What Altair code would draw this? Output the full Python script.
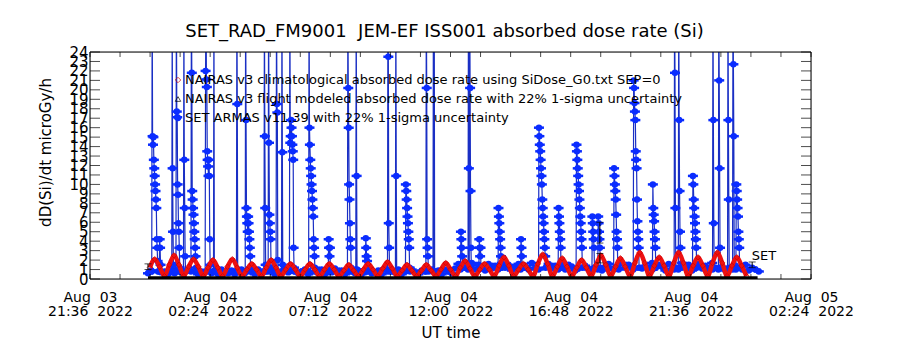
import json
import altair as alt
import pandas as pd

# ---------------- data (time = minutes after 2022-08-03 21:36 UT) ----------------
X_MAJOR = [0, 288, 576, 864, 1152, 1440, 1728]
X_DATES = ["Aug  03", "Aug  04", "Aug  04", "Aug  04", "Aug  04", "Aug  04", "Aug  05"]
X_TIMES = ["21:36  2022", "02:24  2022", "07:12  2022", "12:00  2022",
           "16:48  2022", "21:36  2022", "02:24  2022"]
X_MINOR = [0, 72, 144, 216, 288, 360, 432, 504, 576, 648, 720, 792, 864, 936,
           1008, 1080, 1152, 1224, 1296, 1368, 1440, 1512, 1584, 1656, 1728]
Y_TICKS = [0, 1, 2, 3, 4, 5, 6, 7, 8, 9, 10, 11, 12, 13, 14, 15, 16, 17, 18,
           19, 20, 21, 22, 23, 24]

# NAIRAS v3 climatological dose rate (red), sampled every 11.625 min
RED_START = 143.5
RED_STEP = 11.625
RED_VALUES = [
    1.2, 2.1, 1.3, 0.3, 1.5, 2.5, 1.5, 0.3, 1.3, 2.1, 1.3, 0.3,
    1.2, 2.0, 1.2, 0.3, 1.3, 2.1, 1.2, 0.3, 1.0, 1.6, 1.0, 0.3,
    1.2, 2.0, 1.2, 0.3, 1.0, 1.6, 1.0, 0.3, 1.0, 1.6, 1.0, 0.3,
    1.0, 1.6, 1.0, 0.3, 0.9, 1.5, 0.9, 0.3, 1.0, 1.6, 1.0, 0.3,
    1.1, 1.8, 1.1, 0.3, 0.9, 1.5, 0.9, 0.3, 0.9, 1.5, 0.9, 0.3,
    1.0, 1.7, 1.0, 0.3, 1.2, 1.9, 1.1, 0.3, 1.0, 1.6, 1.0, 0.3,
    1.4, 2.3, 1.4, 0.3, 1.0, 1.6, 1.0, 0.3, 1.6, 2.6, 1.6, 0.3,
    1.3, 2.2, 1.3, 0.3, 1.2, 2.0, 1.2, 0.3, 1.5, 2.5, 1.5, 0.3,
    1.3, 2.2, 1.3, 0.3, 1.7, 2.8, 1.7, 0.3, 1.4, 2.3, 1.4, 0.3,
    1.7, 2.8, 1.7, 0.3, 1.4, 2.3, 1.4, 0.3, 1.7, 2.8, 1.7, 0.3,
    1.4, 2.3, 1.4, 0.3,
]

# SET ARMAS background level (blue), every 8 min
BASE_START = 139
BASE_STEP = 8
BASE_VALUES = [
    0.6, 0.9, 0.5, 1.0, 0.7, 0.8, 0.5, 1.1, 0.6, 0.9, 0.7, 0.5,
    0.9, 0.6, 1.0, 0.5, 0.8, 0.7, 1.1, 0.6, 0.9, 0.5, 1.0, 0.7,
    0.6, 0.9, 0.5, 0.8, 1.0, 0.6, 0.7, 0.9, 0.5, 1.0, 0.6, 0.8,
    0.7, 1.1, 0.5, 0.9, 0.6, 1.0, 0.7, 0.5, 0.9, 0.6, 0.8, 1.0,
    0.5, 0.7, 0.9, 0.6, 1.0, 0.5, 0.8, 0.7, 1.1, 0.6, 0.9, 0.5,
    1.0, 0.7, 0.6, 0.9, 0.5, 0.8, 1.0, 0.6, 0.7, 0.9, 0.5, 1.1,
    0.6, 0.8, 0.7, 1.0, 0.5, 0.9, 0.6, 1.0, 0.7, 0.5, 0.9, 0.8,
    0.6, 1.0, 0.7, 0.9, 0.5, 1.0, 0.8, 0.6,
    1.1, 1.6, 0.9, 1.4, 1.2, 1.7, 1.0, 1.5, 1.3, 0.9, 1.6, 1.1,
    1.4, 1.0, 1.7, 1.2, 1.5, 0.9, 1.3, 1.6, 1.1, 1.4, 1.0, 1.7,
    1.2, 1.5, 1.3, 0.9, 1.6, 1.1, 1.4, 1.2, 1.7, 1.0, 1.5, 1.3,
    0.9, 1.6, 1.1, 1.4, 1.0, 1.7, 1.2, 1.5, 0.9, 1.3, 1.6, 1.1,
    1.4, 1.0, 1.7, 1.2, 1.5, 1.3, 0.9, 1.6, 1.1, 1.4, 1.2, 1.7,
    1.0, 1.5, 1.3, 0.9, 1.6, 1.1, 1.4, 1.0, 1.7, 1.2, 1.5, 0.9,
    1.3, 1.6, 1.1, 1.4, 1.0, 1.7, 1.2, 1.5, 1.3, 0.9, 1.6, 1.1,
    1.4, 1.2, 1.0, 1.5, 0.9, 1.2, 1.0, 0.8,
]

# SET ARMAS bursts (blue), 1-min samples starting at given minute; 30 = off scale
BURST_START = [148, 166, 196, 206, 224, 242, 276, 296, 351, 372, 417, 427, 446,
               459, 478, 524, 571, 617, 637, 660, 713, 732, 756, 805, 822, 888,
               906, 932, 978, 1032, 1075, 1122, 1165, 1203, 1217, 1255, 1302,
               1348, 1400, 1410, 1444, 1492, 1506, 1528, 1540, 1548]
BURST_VALUES = [
    [0.8, 30, 15.1, 14.2, 15.0, 12.6, 11.7, 10.9, 10.0, 9.3, 8.4, 7.5, 4.2, 3.3, 1.9, 0.8],
    [0.8, 4.2, 3.3, 1.5, 0.8],
    [0.8, 28, 11.7, 5.0, 1.5, 0.8],
    [0.8, 30, 17.7, 17.1, 10.0, 8.9, 5.9, 5.0, 3.3, 1.2, 0.8],
    [0.8, 28, 12.6, 7.5, 2.4, 0.8],
    [0.8, 30, 21.8, 9.3, 8.4, 7.5, 6.8, 5.9, 5.0, 4.2, 3.3, 2.4, 1.2, 0.8],
    [0.8, 22.0, 30, 21.1, 20.3, 13.5, 12.6, 11.9, 10.9, 12.6, 10.9, 4.2, 1.5, 0.8],
    [0.8, 30, 0.8],
    [0.8, 30, 18.5, 1.0, 0.8],
    [0.8, 30, 16.8, 7.5, 6.6, 5.9, 5.0, 6.6, 5.9, 5.0, 4.2, 3.3, 2.4, 1.2, 0.8],
    [0.8, 30, 15.1, 7.5, 1.5, 0.8],
    [0.8, 30, 14.4, 6.8, 5.9, 5.0, 4.2, 1.2, 0.8],
    [0.8, 30, 18.5, 17.6, 2.0, 0.8],
    [0.8, 30, 13.4, 1.5, 0.8],
    [0.8, 30, 14.4, 15.1, 16.8, 16.0, 15.1, 14.2, 13.5, 12.6, 3.3, 1.2, 0.8],
    [0.8, 30, 16.0, 14.2, 12.6, 11.7, 10.9, 10.0, 9.3, 8.4, 7.5, 6.6, 4.2, 3.3, 2.4, 1.2, 0.8],
    [0.8, 4.2, 3.3, 2.4, 3.3, 1.2, 0.8],
    [0.8, 30, 20.2, 16.0, 10.0, 8.4, 5.9, 4.2, 3.3, 1.2, 0.8],
    [0.8, 30, 10.9, 1.0, 0.8],
    [0.8, 4.3, 3.3, 2.4, 1.9, 0.8],
    [0.8, 30, 23.5, 5.9, 3.3, 1.0, 0.8],
    [0.8, 30, 10.9, 0.8],
    [0.8, 10.0, 9.3, 8.4, 7.5, 6.6, 5.9, 5.0, 4.2, 3.3, 1.2, 0.8],
    [0.8, 30, 20.2, 4.2, 3.3, 2.4, 1.0, 0.8],
    [0.8, 30, 0.8, 30, 0.8],
    [1.0, 5.0, 4.2, 3.3, 2.4, 1.2],
    [1.0, 30, 11.7, 1.5, 30, 20.2, 9.3, 3.3, 1.2],
    [1.0, 4.2, 3.3, 2.4, 3.3, 1.2],
    [1.0, 7.5, 6.6, 5.9, 5.0, 4.2, 3.3, 2.4, 1.2],
    [1.0, 4.2, 3.3, 2.4, 1.2],
    [1.0, 16.0, 15.1, 14.2, 13.5, 12.6, 11.7, 10.9, 10.0, 8.4, 7.5, 6.6, 5.9, 5.0, 4.2, 3.3, 2.4, 1.2],
    [1.0, 7.5, 6.6, 5.9, 5.0, 4.2, 3.3, 1.2],
    [1.0, 14.2, 13.5, 12.6, 11.7, 10.9, 10.0, 9.3, 8.4, 7.5, 6.6, 5.9, 5.0, 4.2, 3.3, 1.2],
    [1.0, 6.6, 5.9, 5.0, 4.2, 3.3, 1.2],
    [1.0, 6.6, 5.9, 5.0, 4.2, 3.3, 1.2],
    [1.0, 11.7, 10.9, 10.0, 9.3, 8.4, 6.8, 5.0, 4.2, 3.3, 1.2],
    [1.0, 21.0, 20.2, 18.6, 17.7, 16.8, 13.5, 12.6, 11.7, 8.4, 6.1, 5.0, 4.2, 3.3, 1.2],
    [1.0, 10.0, 7.5, 6.8, 6.1, 5.0, 4.2, 3.3, 1.2],
    [1.0, 30, 21.8, 7.5, 1.2],
    [1.0, 30, 16.8, 9.3, 5.0, 3.3, 1.2],
    [1.0, 10.9, 10.0, 8.4, 7.5, 6.6, 5.9, 5.0, 4.2, 3.3, 1.2],
    [1.0, 30, 16.8, 5.9, 1.2],
    [1.0, 30, 21.0, 11.7, 3.3, 1.2],
    [1.0, 30, 16.8, 8.4, 1.2],
    [1.0, 30, 22.7, 15.1, 1.2],
    [1.0, 10.0, 9.3, 8.4, 7.5, 6.6, 5.0, 4.2, 3.3, 1.2],
]

# NAIRAS v3 flight modeled (black)
BLACK_T = [139, 400, 800, 1200, 1600]
BLACK_V = [0.1, 0.1, 0.1, 0.1, 0.1]

# black error bars
EB_T = [139, 1222, 1222, 1587]
EB_LO = [1.0, 3.8, 1.7, 1.2]
EB_HI = [1.6, 6.0, 2.7, 1.8]

LEGEND_LABELS = [
    "NAIRAS v3 climatological absorbed dose rate using SiDose_G0.txt SEP=0",
    "NAIRAS v3 flight modeled absorbed dose rate with 22% 1-sigma uncertainty",
    "SET ARMAS v11.39 with 22% 1-sigma uncertainty",
]

TITLE = "SET_RAD_FM9001  JEM-EF ISS001 absorbed dose rate (Si)"

# ---------------- build tables ----------------
W, H = 721, 227
FONT = "DejaVu Sans"
NB = lambda s: s.replace("  ", "\u00a0 ")

red_df = pd.DataFrame({"t": [RED_START + RED_STEP * i for i in range(len(RED_VALUES))],
                       "v": RED_VALUES})

pts = []
spans = []
for s, vals in zip(BURST_START, BURST_VALUES):
    spans.append((s, s + len(vals) - 1))
    for j, v in enumerate(vals):
        pts.append((s + j, v))
for i, v in enumerate(BASE_VALUES):
    t = BASE_START + BASE_STEP * i
    if not any(a <= t <= b for a, b in spans):
        pts.append((t, v))
pts.sort()
blue_df = pd.DataFrame(pts, columns=["t", "v"])
black_df = pd.DataFrame({"t": BLACK_T, "v": BLACK_V})
eb_df = pd.DataFrame({"t": EB_T, "lo": EB_LO, "hi": EB_HI})

xs = alt.Scale(domain=[0, 1728], nice=False, zero=False)
ys = alt.Scale(domain=[0, 24], nice=False, zero=False)

expr = ""
for v, d, tm in zip(X_MAJOR, X_DATES, X_TIMES):
    expr += f"datum.value == {v} ? [{json.dumps(NB(d))}, {json.dumps(NB(tm))}] : "
expr += "''"

x_axis = alt.Axis(values=X_MAJOR, labelExpr=expr, labelFlush=False, labelBound=False,
                  labelOverlap=False, ticks=False, domain=False, grid=False,
                  labelFontSize=14, labelFont=FONT, labelColor="black",
                  labelBaseline="top", labelPadding=11, labelLineHeight=14,
                  title="UT time", titleFontSize=15, titleFont=FONT,
                  titleFontWeight="normal", titleColor="black",
                  titleX=W / 2, titleY=53, titleBaseline="middle", titleAlign="center")
y_axis = alt.Axis(values=Y_TICKS, labelOverlap=False, ticks=False, domain=False, grid=False,
                  labelFontSize=15, labelFont=FONT, labelColor="black", labelPadding=2,
                  labelBaseline="middle",
                  title="dD(Si)/dt microGy/h", titleFontSize=15, titleFont=FONT,
                  titleFontWeight="normal", titleColor="black",
                  titleX=-45, titleY=100, titleAngle=270,
                  titleBaseline="middle", titleAlign="center")

X = lambda f="t:Q": alt.X(f, scale=xs, axis=x_axis)
Y = lambda f="v:Q": alt.Y(f, scale=ys, axis=y_axis)

blue_line = alt.Chart(blue_df).mark_line(color="#1a2fc4", strokeWidth=1.2, clip=True).encode(
    x=X(), y=Y())
blue_pts = alt.Chart(blue_df).mark_circle(color="#0a2cff", size=42, opacity=1, clip=True).encode(
    x=X(), y=Y())
blue_bar = alt.Chart(blue_df).mark_tick(orient="horizontal", color="#0a2cff", size=10,
                                        thickness=2.5, opacity=1, clip=True).encode(
    x=X(), y=Y())
red_line = alt.Chart(red_df).mark_line(color="#ee1111", strokeWidth=4.5, interpolate="monotone",
                                       clip=True).encode(x=X(), y=Y())
red_pts = alt.Chart(red_df).mark_point(shape="diamond", color="#cc0000", filled=False, size=30,
                                        strokeWidth=1, clip=True).encode(x=X(), y=Y())
black_line = alt.Chart(black_df).mark_line(color="black", strokeWidth=3.5, clip=True).encode(
    x=X(), y=Y())
eb_rule = alt.Chart(eb_df).mark_rule(color="black", strokeWidth=1).encode(
    x=X(), y=Y("lo:Q"), y2="hi:Q")
eb_lo = alt.Chart(eb_df).mark_tick(orient="horizontal", color="black", size=7, thickness=1).encode(
    x=X(), y=Y("lo:Q"))
eb_hi = alt.Chart(eb_df).mark_tick(orient="horizontal", color="black", size=7, thickness=1).encode(
    x=X(), y=Y("hi:Q"))
set_label = alt.Chart(pd.DataFrame({"t": [1586], "v": [2.4], "s": ["SET"]})).mark_text(
    align="left", baseline="middle", font=FONT, fontSize=13, color="black").encode(
    x=X(), y=Y(), text="s:N")

# axis ticks (inward) and frame
ytick_df = pd.DataFrame({"v": Y_TICKS})
xtick_df = pd.DataFrame({"t": X_MINOR})
ytick_l = alt.Chart(ytick_df).mark_tick(orient="horizontal", color="black", size=10, thickness=1).encode(
    y=Y(), x=alt.value(5))
ytick_r = alt.Chart(ytick_df).mark_tick(orient="horizontal", color="black", size=10, thickness=1).encode(
    y=Y(), x=alt.value(W - 5))
xtick_t = alt.Chart(xtick_df).mark_tick(orient="vertical", color="black", size=5, thickness=1).encode(
    x=X(), y=alt.value(2.5))
xtick_b = alt.Chart(xtick_df).mark_tick(orient="vertical", color="black", size=5, thickness=1).encode(
    x=X(), y=alt.value(H - 2.5))

one = pd.DataFrame({"a": [0]})
frame = alt.Chart(one).mark_rect(fill=None, stroke="black", strokeWidth=1).encode(
    x=alt.value(0), x2=alt.value(W), y=alt.value(0), y2=alt.value(H))

# legend (inside plot)
leg_y = [28, 47, 66]
legend_layers = []
legend_layers.append(alt.Chart(one).mark_point(shape="diamond", filled=False, color="#cc0000",
                                               size=30, strokeWidth=1).encode(
    x=alt.value(88), y=alt.value(leg_y[0])))
legend_layers.append(alt.Chart(one).mark_point(shape="triangle-up", filled=False, color="black",
                                               size=30, strokeWidth=1).encode(
    x=alt.value(88), y=alt.value(leg_y[1])))
legend_layers.append(alt.Chart(one).mark_circle(color="#0a2cff", size=40, opacity=1).encode(
    x=alt.value(88), y=alt.value(leg_y[2])))
for lab, yy in zip(LEGEND_LABELS, leg_y):
    legend_layers.append(alt.Chart(pd.DataFrame({"s": [lab]})).mark_text(
        align="left", baseline="middle", font=FONT, fontSize=13, color="black").encode(
        x=alt.value(95), y=alt.value(yy), text="s:N"))

chart = alt.layer(
    blue_line, blue_bar, blue_pts, red_line, red_pts, black_line, eb_rule, eb_lo, eb_hi,
    set_label, ytick_l, ytick_r, xtick_t, xtick_b, frame, *legend_layers
).properties(
    width=W, height=H,
    title=alt.TitleParams(text=NB(TITLE), font=FONT, fontSize=18, fontWeight="normal",
                          color="black", anchor="middle", offset=4, dx=-6),
    autosize=alt.AutoSizeParams(type="none"),
    padding={"left": 90, "top": 52, "right": 89, "bottom": 71},
).configure_view(stroke="black", strokeWidth=1).configure(background="white")

chart.save("out.html", embed_options={"renderer": "svg", "actions": False})
